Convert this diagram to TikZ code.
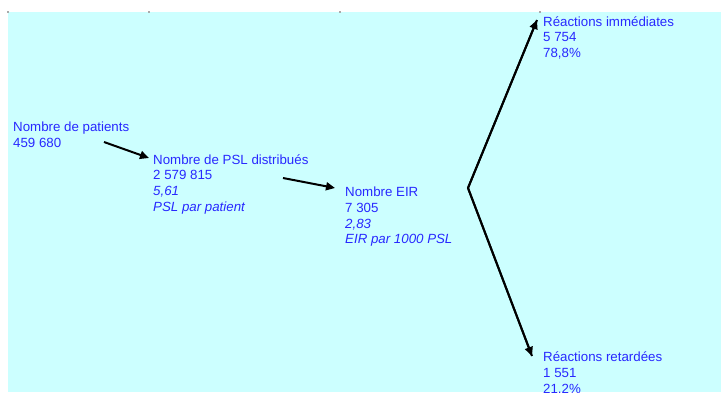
\documentclass[tikz,border=0pt]{standalone}
\usepackage{fontspec}
\setmainfont{Liberation Sans}
\usetikzlibrary{arrows.meta}
\definecolor{bgcyan}{RGB}{204,255,255}
\definecolor{txtblue}{RGB}{40,40,255}
\definecolor{tickgrey}{RGB}{170,170,170}
\begin{document}
\begin{tikzpicture}[x=1pt,y=-1pt,
  lbl/.style={anchor=base west,inner sep=0pt,align=left,text=txtblue,
    font=\fontsize{13.3}{15.7}\selectfont},
  arr/.style={draw=black,line width=2pt,-{Triangle[length=9pt,width=8pt]}},
  branch/.style={draw=black,line width=2pt}]
\useasboundingbox (0,0) rectangle (721,392);
\fill[white] (0,0) rectangle (721,392);
\fill[bgcyan] (8,12) rectangle (721,392);
\foreach \tx in {8,149,340,540} \fill[tickgrey] (\tx-1,11) rectangle (\tx+1,13);
\begin{scope}
\clip (0,0) rectangle (721,392);
\node[lbl] (pat) at (13,147.2) {Nombre de patients\\459 680};
\node[lbl] (psl) at (153,211.1) {Nombre de PSL distribués\\2 579 815\\\textit{5,61}\\\textit{PSL par patient}};
\node[lbl] (eir) at (345,243.8) {Nombre EIR\\7 305\\\textit{2,83}\\\textit{EIR par 1000 PSL}};
\node[lbl] (imm) at (543,57.4) {Réactions immédiates\\5 754\\78,8\%};
\node[lbl] (ret) at (543,393.1) {Réactions retardées\\1 551\\21,2\%};
\end{scope}
\coordinate (a1s) at (104,142);
\coordinate (a1e) at (149,158);
\coordinate (a2s) at (283,178);
\coordinate (a2e) at (335,188);
\coordinate (v) at (468,188);
\coordinate (up) at (537,20);
\coordinate (dn) at (532,356);
\draw[arr] (a1s) -- (a1e);
\draw[arr] (a2s) -- (a2e);
\draw[branch,line join=miter] (up) -- (v) -- (dn);
\draw[arr] (v) -- (up);
\draw[arr] (v) -- (dn);
\end{tikzpicture}
\end{document}
